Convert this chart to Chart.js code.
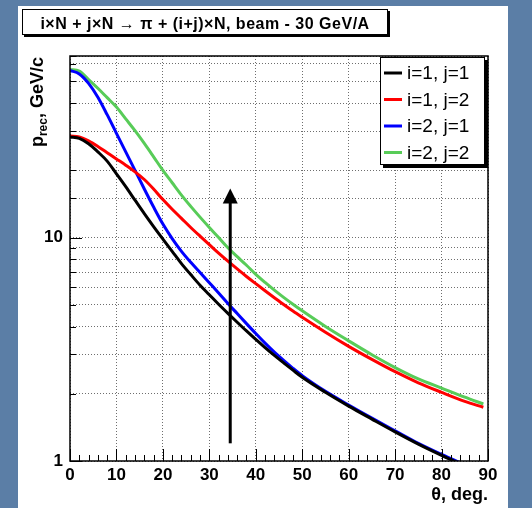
<!DOCTYPE html>
<html>

<head>
    <meta charset="utf-8">
    <title>p_rec vs theta</title>
    <style>
        html, body { margin: 0; padding: 0; background: #5b7ea6; }
    </style>
</head>

<body>
    <canvas id="myChart1" width="532" height="508"></canvas>
    <script src="https://cdn.jsdelivr.net/npm/chart.js@4.4.6/dist/chart.umd.min.js"></script>
    <script>
        // theta, deg.
        const theta = [0, 2, 4, 6, 8, 10, 12, 14, 16, 18, 20, 22, 24, 26, 28, 30, 32, 34, 36, 38, 40, 42, 44, 46, 48, 50, 55, 60, 65, 70, 75, 80, 85, 89]
        // p_rec, GeV/c
        const pI1J1 = [28.2, 27.8, 26.3, 24.2, 22.0, 19.3, 16.9, 14.7, 12.8, 11.2, 9.85, 8.68, 7.65, 6.83, 6.12, 5.55, 5.03, 4.58, 4.18, 3.82, 3.5, 3.22, 2.97, 2.75, 2.55, 2.37, 2.03, 1.76, 1.54, 1.35, 1.19, 1.06, 0.95, null]
        const pI1J2 = [28.5, 28.2, 27.1, 25.6, 24.0, 22.5, 21.1, 19.7, 18.2, 16.5, 14.8, 13.4, 12.2, 11.1, 10.15, 9.3, 8.52, 7.84, 7.24, 6.7, 6.22, 5.78, 5.38, 5.02, 4.69, 4.4, 3.77, 3.26, 2.85, 2.51, 2.24, 2.03, 1.85, 1.74]
        const pI2J1 = [56.0, 54.0, 49.0, 42.5, 35.5, 29.3, 24.2, 20.0, 16.5, 13.7, 11.5, 9.9, 8.68, 7.75, 6.98, 6.28, 5.65, 5.07, 4.57, 4.12, 3.72, 3.37, 3.07, 2.82, 2.6, 2.41, 2.05, 1.78, 1.555, 1.365, 1.2, 1.07, 0.96, null]
        const pI2J2 = [56.6, 55.6, 51.0, 46.6, 42.3, 38.4, 34.0, 30.1, 26.4, 23.0, 20.0, 17.6, 15.5, 13.8, 12.35, 11.1, 10.0, 9.0, 8.22, 7.52, 6.85, 6.3, 5.82, 5.4, 5.03, 4.7, 4.0, 3.45, 2.99, 2.62, 2.33, 2.12, 1.93, 1.8]
        const seriesLabels = ["i=1, j=1", "i=1, j=2", "i=2, j=1", "i=2, j=2"]
        const seriesValues = [pI1J1, pI1J2, pI2J1, pI2J2]
        const seriesColors = ["#000000", "#ff0000", "#0000ff", "#58cc58"]
        // arrow: theta and p range
        const arrowTheta = 34.5
        const arrowFrom = 1.2
        const arrowTo = 16.6

        const titleText = "i\u00d7N + j\u00d7N \u2192 \u03c0 + (i+j)\u00d7N, beam - 30 GeV/A"
        const FONT = "'Liberation Sans', Arial, sans-serif"

        const background = {
            id: "background",
            beforeDraw(chart) {
                const ctx = chart.ctx
                ctx.save()
                ctx.fillStyle = "#5b7ea6"
                ctx.fillRect(0, 0, chart.width, chart.height)
                ctx.fillStyle = "#ffffff"
                ctx.fillRect(18, 6, 490, 502)
                ctx.restore()
            },
        }

        function shadowBox(ctx, x, y, w, h, s) {
            ctx.fillStyle = "#000"
            ctx.fillRect(x + s, y + s, w, h)
            ctx.fillStyle = "#fff"
            ctx.fillRect(x, y, w, h)
            ctx.strokeStyle = "#000"
            ctx.lineWidth = 1
            ctx.strokeRect(x + 0.5, y + 0.5, w - 1, h - 1)
        }

        const decorations = {
            id: "decorations",
            afterDatasetsDraw(chart) {
                const ctx = chart.ctx
                const x = chart.scales.x, y = chart.scales.y
                const ax = x.getPixelForValue(arrowTheta)
                const y0 = y.getPixelForValue(arrowFrom)
                const y1 = y.getPixelForValue(arrowTo)
                ctx.save()
                ctx.strokeStyle = "#000"
                ctx.fillStyle = "#000"
                ctx.lineWidth = 3
                ctx.beginPath()
                ctx.moveTo(ax, y0)
                ctx.lineTo(ax, y1 + 12)
                ctx.stroke()
                ctx.beginPath()
                ctx.moveTo(ax, y1)
                ctx.lineTo(ax - 7.5, y1 + 15)
                ctx.lineTo(ax + 7.5, y1 + 15)
                ctx.closePath()
                ctx.fill()
                ctx.restore()
            },
            afterDraw(chart) {
                const ctx = chart.ctx
                const a = chart.chartArea
                const x = chart.scales.x, y = chart.scales.y
                ctx.save()
                // frame
                ctx.strokeStyle = "#000"
                ctx.lineWidth = 1.5
                ctx.strokeRect(a.left, a.top, a.right - a.left, a.bottom - a.top)
                // ticks inside the frame
                ctx.lineWidth = 1
                for (let v = 0; v <= 90; v += 2) {
                    const px = Math.round(x.getPixelForValue(v)) + 0.5
                    const len = v % 10 === 0 ? 12 : 6
                    ctx.beginPath()
                    ctx.moveTo(px, a.bottom)
                    ctx.lineTo(px, a.bottom - len)
                    ctx.stroke()
                }
                y.ticks.forEach(t => {
                    const py = Math.round(y.getPixelForValue(t.value)) + 0.5
                    const len = (t.value === 1 || t.value === 10) ? 12 : 6
                    ctx.beginPath()
                    ctx.moveTo(a.left, py)
                    ctx.lineTo(a.left + len, py)
                    ctx.stroke()
                })
                // axis titles
                ctx.fillStyle = "#000"
                ctx.textBaseline = "alphabetic"
                ctx.font = "bold 18px " + FONT
                ctx.textAlign = "right"
                ctx.fillText("\u03b8, deg.", a.right, 500)

                ctx.save()
                ctx.translate(43, 57)
                ctx.rotate(-Math.PI / 2)
                ctx.textAlign = "left"
                ctx.font = "bold 18px " + FONT
                const wP = ctx.measureText("p").width
                const wRest = ctx.measureText(", GeV/c").width
                ctx.font = "bold 12px " + FONT
                const wSub = ctx.measureText("rec").width
                let cx = -(wP + wSub + wRest)
                ctx.font = "bold 18px " + FONT
                ctx.fillText("p", cx, 0)
                cx += wP
                ctx.font = "bold 12px " + FONT
                ctx.fillText("rec", cx, 4)
                cx += wSub
                ctx.font = "bold 18px " + FONT
                ctx.fillText(", GeV/c", cx, 0)
                ctx.restore()

                // title box
                shadowBox(ctx, 22, 9, 366, 26, 2)
                ctx.fillStyle = "#000"
                ctx.font = "bold 16px " + FONT
                ctx.textAlign = "center"
                ctx.letterSpacing = "0.5px"
                ctx.fillText(titleText, 205, 29)
                ctx.letterSpacing = "0px"

                // legend
                shadowBox(ctx, 380, 57, 105, 108, 3)
                ctx.textAlign = "left"
                ctx.textBaseline = "middle"
                ctx.font = "19px " + FONT
                chart.data.datasets.forEach((ds, i) => {
                    const ly = 73 + i * 26.5
                    ctx.strokeStyle = ds.borderColor
                    ctx.lineWidth = 3
                    ctx.beginPath()
                    ctx.moveTo(384, ly)
                    ctx.lineTo(402, ly)
                    ctx.stroke()
                    ctx.fillStyle = "#000"
                    ctx.fillText(ds.label, 407, ly + 1)
                })
                ctx.restore()
            },
        }

        const tickFont = { family: FONT, size: 17, weight: "bold" }

        const config = {
            type: "line",
            data: {
                datasets: seriesLabels.map((label, i) => ({
                    label: label,
                    data: theta.map((t, j) => ({ x: t, y: seriesValues[i][j] })),
                    borderColor: seriesColors[i],
                    borderWidth: 3,
                    pointRadius: 0,
                    fill: false,
                    cubicInterpolationMode: "monotone",
                })),
            },
            options: {
                responsive: false,
                animation: false,
                layout: { padding: { top: 56, right: 44, left: 0, bottom: 0 } },
                plugins: {
                    legend: { display: false },
                    tooltip: { enabled: false },
                },
                scales: {
                    x: {
                        type: "linear",
                        min: 0,
                        max: 90,
                        afterFit(s) { s.height = 47 },
                        grid: { color: "#6e6e6e", lineWidth: 1, drawTicks: false },
                        border: { display: false, dash: [1, 2] },
                        ticks: { stepSize: 10, padding: 4, color: "#000", font: tickFont, maxRotation: 0, autoSkip: false },
                    },
                    y: {
                        type: "logarithmic",
                        min: 1,
                        max: 65,
                        afterFit(s) { s.width = 70 },
                        grid: { color: "#6e6e6e", lineWidth: 1, drawTicks: false },
                        border: { display: false, dash: [1, 2] },
                        ticks: {
                            padding: 7,
                            color: "#000",
                            font: tickFont,
                            autoSkip: false,
                            callback: v => (v === 1 || v === 10) ? String(v) : "",
                        },
                    },
                },
            },
            plugins: [background, decorations],
        }

        new Chart(document.getElementById("myChart1"), config)
    </script>
</body>

</html>
